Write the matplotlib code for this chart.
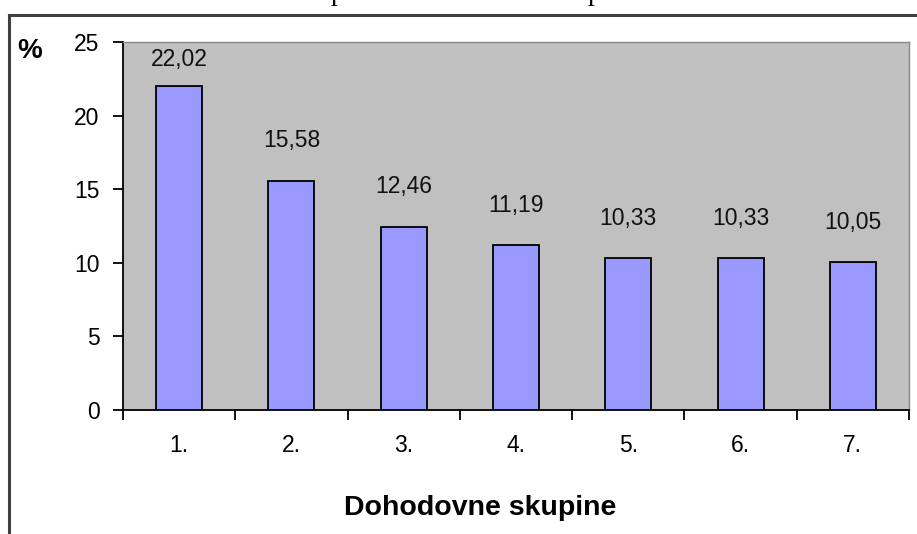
import matplotlib
matplotlib.use('Agg')
import matplotlib.pyplot as plt
from matplotlib.lines import Line2D

plt.rcParams['font.family'] = ['Liberation Sans', 'DejaVu Sans']

groups = ['1.', '2.', '3.', '4.', '5.', '6.', '7.']
shares = [22.02, 15.58, 12.46, 11.19, 10.33, 10.33, 10.05]
y_ticks = [0, 5, 10, 15, 20, 25]

fig = plt.figure(figsize=(9.17, 5.34), dpi=100)
ax = fig.add_axes([123/917, 124/534, 786/917, 368/534])

x = list(range(len(groups)))
ax.bar(x, shares, width=0.41, color='#9999ff', edgecolor='black', linewidth=1.3, zorder=3)

for xi, v in zip(x, shares):
    ly = min(v + 2.7, 23.8)
    ax.text(xi, ly, ('%.2f' % v).replace('.', ','), ha='center', va='center',
            fontsize=16.5, color='#111111', zorder=4)

ax.set_facecolor('#c0c0c0')
ax.set_xlim(-0.5, len(groups) - 0.5)
ax.set_ylim(0, 25)
ax.set_yticks(y_ticks)
ax.set_yticklabels([str(t) for t in y_ticks], fontsize=16.5)
ax.set_xticks(x)
ax.set_xticklabels(groups, fontsize=16.5)
ax.set_xticks([i - 0.5 for i in range(len(groups) + 1)], minor=True)
ax.tick_params(axis='x', which='major', length=0, pad=17)
ax.tick_params(axis='x', which='minor', length=7, width=1.3, direction='out')
ax.tick_params(axis='y', length=7, width=1.3, direction='out', pad=10)

for s in ['left', 'bottom']:
    ax.spines[s].set_color('black')
    ax.spines[s].set_linewidth(1.3)
for s in ['top', 'right']:
    ax.spines[s].set_color('#888888')
    ax.spines[s].set_linewidth(1.0)

fig.text(30/917, 1 - 51/534, '%', fontsize=20, fontweight='bold', ha='center', va='center')
fig.text(480/917, 1 - 508/534, 'Dohodovne skupine', fontsize=20.5, fontweight='bold',
         ha='center', va='center')

# outer frame
fig.add_artist(Line2D([9/917, 9/917], [0, 1 - 15/534], transform=fig.transFigure,
                      color='#404040', linewidth=2.2))
fig.add_artist(Line2D([9/917, 1], [1 - 15/534, 1 - 15/534], transform=fig.transFigure,
                      color='#404040', linewidth=2.2))

# cut-off caption text above the frame
for px in [338, 595]:
    fig.text(px/917, 1.0, 'p', family='Liberation Serif', fontsize=20,
             ha='center', va='baseline')

fig.savefig('out.png', dpi=100)
